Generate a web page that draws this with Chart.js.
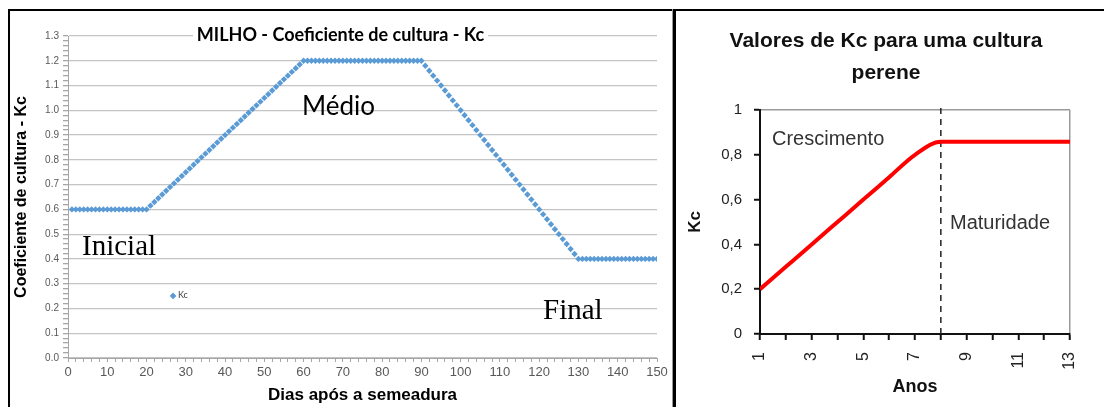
<!DOCTYPE html>
<html lang="pt">
<head>
<meta charset="utf-8">
<title>Kc - milho e cultura perene</title>
<script src="https://cdn.jsdelivr.net/npm/chart.js@4.4.1/dist/chart.umd.min.js"></script>
<style>
  html, body { margin: 0; padding: 0; background: #fff; }
  #pagina { position: relative; width: 1104px; height: 407px; overflow: hidden; background: #fff; font-family: "Liberation Sans", Arial, sans-serif; }
  canvas { position: absolute; }
  #graficoMilho { left: 12px; top: 12px; }
  #graficoPerene { left: 677px; top: 12px; }
  .linha { position: absolute; background: #000; }
  .rotulo { position: absolute; white-space: nowrap; }
  #tituloMilho { left: 193px; top: 24px; width: 295px; text-align: center; line-height: 20px; background: #fff;
    font-family: Lato, "Liberation Sans", sans-serif; font-weight: bold; font-size: 18px; color: #000; }
  #tituloPerene { left: 686px; top: 24px; width: 400px; text-align: center; line-height: 32px;
    font-weight: bold; font-size: 21px; color: #111; }
  .serif { font-family: "Liberation Serif", "Times New Roman", serif; font-size: 29px; line-height: 29px; color: #000; }
  #medio { left: 302px; top: 92px; font-family: Lato, sans-serif; font-size: 26px; line-height: 26px; color: #000; }
  #legenda { left: 170px; top: 289px; font-size: 9px; line-height: 12px; color: #404040; font-family: Lato, sans-serif; }
  #legenda b { color: #5b9bd5; font-size: 8px; margin-right: 2px; }
  .nota { font-size: 20px; line-height: 20px; color: #333; }
</style>
</head>
<body>
<div id="pagina">
  <canvas id="graficoMilho" width="660" height="395"></canvas>
  <canvas id="graficoPerene" width="427" height="395"></canvas>

  <div class="linha" style="left:8px; top:9px; width:1096px; height:2px;"></div>
  <div class="linha" style="left:8px; top:9px; width:2px; height:398px;"></div>
  <div class="linha" style="left:672px; top:9px; width:1px; height:398px; background:#999;"></div>
  <div class="linha" style="left:673px; top:9px; width:3px; height:398px;"></div>

  <div class="rotulo" id="tituloMilho">MILHO - Coeficiente de cultura - Kc</div>
  <div class="rotulo" id="medio">Médio</div>
  <div class="rotulo serif" style="left:82px; top:231px;">Inicial</div>
  <div class="rotulo serif" style="left:543px; top:295px;">Final</div>
  <div class="rotulo" id="legenda"><b>◆</b>Kc</div>

  <div class="rotulo" id="tituloPerene">Valores de Kc para uma cultura<br>perene</div>
  <div class="rotulo nota" style="left:772px; top:128px;">Crescimento</div>
  <div class="rotulo nota" style="left:950px; top:212px;">Maturidade</div>
</div>

<script>
// Milho: Kc por dia após a semeadura
const dias = [
  1, 2, 3, 4, 5, 6, 7, 8, 9, 10, 11, 12, 13, 14, 15, 16, 17, 18, 19, 20,
  21, 22, 23, 24, 25, 26, 27, 28, 29, 30, 31, 32, 33, 34, 35, 36, 37, 38, 39, 40,
  41, 42, 43, 44, 45, 46, 47, 48, 49, 50, 51, 52, 53, 54, 55, 56, 57, 58, 59, 60,
  61, 62, 63, 64, 65, 66, 67, 68, 69, 70, 71, 72, 73, 74, 75, 76, 77, 78, 79, 80,
  81, 82, 83, 84, 85, 86, 87, 88, 89, 90, 91, 92, 93, 94, 95, 96, 97, 98, 99, 100,
  101, 102, 103, 104, 105, 106, 107, 108, 109, 110, 111, 112, 113, 114, 115, 116, 117, 118, 119, 120,
  121, 122, 123, 124, 125, 126, 127, 128, 129, 130, 131, 132, 133, 134, 135, 136, 137, 138, 139, 140,
  141, 142, 143, 144, 145, 146, 147, 148, 149, 150
];
const kcMilho = [
  0.6, 0.6, 0.6, 0.6, 0.6, 0.6, 0.6, 0.6, 0.6, 0.6, 0.6, 0.6, 0.6, 0.6, 0.6, 0.6, 0.6, 0.6, 0.6, 0.6,
  0.615, 0.63, 0.645, 0.66, 0.675, 0.69, 0.705, 0.72, 0.735, 0.75, 0.765, 0.78, 0.795, 0.81, 0.825, 0.84, 0.855, 0.87, 0.885, 0.9,
  0.915, 0.93, 0.945, 0.96, 0.975, 0.99, 1.005, 1.02, 1.035, 1.05, 1.065, 1.08, 1.095, 1.11, 1.125, 1.14, 1.155, 1.17, 1.185, 1.2,
  1.2, 1.2, 1.2, 1.2, 1.2, 1.2, 1.2, 1.2, 1.2, 1.2, 1.2, 1.2, 1.2, 1.2, 1.2, 1.2, 1.2, 1.2, 1.2, 1.2,
  1.2, 1.2, 1.2, 1.2, 1.2, 1.2, 1.2, 1.2, 1.2, 1.2, 1.18, 1.16, 1.14, 1.12, 1.1, 1.08, 1.06, 1.04, 1.02, 1.0,
  0.98, 0.96, 0.94, 0.92, 0.9, 0.88, 0.86, 0.84, 0.82, 0.8, 0.78, 0.76, 0.74, 0.72, 0.7, 0.68, 0.66, 0.64, 0.62, 0.6,
  0.58, 0.56, 0.54, 0.52, 0.5, 0.48, 0.46, 0.44, 0.42, 0.4, 0.4, 0.4, 0.4, 0.4, 0.4, 0.4, 0.4, 0.4, 0.4, 0.4,
  0.4, 0.4, 0.4, 0.4, 0.4, 0.4, 0.4, 0.4, 0.4, 0.4
];

// Cultura perene: Kc por ano
const anos = [1, 2, 3, 4, 5, 6, 7, 8, 9, 10, 11, 12, 13];
const kcPerene = [0.2, 0.3, 0.4, 0.5, 0.6, 0.7, 0.8, 0.858, 0.858, 0.858, 0.858, 0.858, 0.858];
const anoMaturidade = 8;
const limiteMaturidade = [0, 1.015];

Chart.defaults.font.family = '"Liberation Sans", Arial, sans-serif';
Chart.defaults.animation = false;

const ehPrincipal = v => Math.round(v * 100) % 10 === 0;

new Chart(document.getElementById('graficoMilho'), {
    type: 'scatter',
    data: {
        datasets: [{
            label: 'Kc',
            data: dias.map((d, i) => ({ x: d, y: kcMilho[i] })),
            pointStyle: 'rectRot',
            pointRadius: 3.2,
            pointBackgroundColor: '#5b9bd5',
            pointBorderWidth: 0,
            showLine: false
        }]
    },
    options: {
        responsive: false,
        devicePixelRatio: 1,
        layout: { padding: { left: 0, top: 24, right: 15, bottom: 0 } },
        plugins: { legend: { display: false }, tooltip: { enabled: false } },
        scales: {
            x: {
                type: 'linear', min: 0, max: 150,
                afterFit: s => { s.height = 49; },
                ticks: {
                    stepSize: 2, autoSkip: false, maxRotation: 0, padding: 3,
                    color: '#595959', font: { size: 13 },
                    callback: v => (v % 10 === 0 ? v : '')
                },
                grid: { drawOnChartArea: false, tickLength: 4, tickColor: '#a6a6a6' },
                border: { color: '#a6a6a6' },
                title: {
                    display: true, text: 'Dias após a semeadura', color: '#000',
                    font: { size: 17, weight: 'bold' }, padding: { top: 0, bottom: 1 }
                }
            },
            y: {
                min: 0, max: 1.3,
                afterFit: s => { s.width = 56; },
                ticks: {
                    stepSize: 0.02, autoSkip: false, padding: 4,
                    color: '#595959', font: { size: 10 },
                    callback: v => (ehPrincipal(v) ? v.toFixed(1) : '')
                },
                grid: {
                    color: c => (ehPrincipal(c.tick.value) ? '#c4c4c4' : 'transparent'),
                    lineWidth: 1.3,
                    tickLength: 5, tickColor: '#a6a6a6'
                },
                border: { color: '#a6a6a6' },
                title: {
                    display: true, text: 'Coeficiente de cultura - Kc', color: '#000',
                    font: { size: 16, weight: 'bold' }, padding: { top: 0, bottom: 0 }
                }
            }
        }
    }
});

new Chart(document.getElementById('graficoPerene'), {
    type: 'line',
    data: {
        datasets: [{
            label: 'Kc',
            data: anos.map((a, i) => ({ x: a, y: kcPerene[i] })),
            borderColor: '#ff0000',
            borderWidth: 4,
            pointRadius: 0,
            cubicInterpolationMode: 'monotone'
        }, {
            label: 'Maturidade',
            data: limiteMaturidade.map(v => ({ x: anoMaturidade, y: v })),
            borderColor: '#222',
            borderWidth: 1.5,
            borderDash: [6, 5],
            pointRadius: 0,
            clip: false
        }]
    },
    options: {
        responsive: false,
        devicePixelRatio: 1,
        layout: { padding: { left: 0, top: 98, right: 34, bottom: 0 } },
        plugins: { legend: { display: false }, tooltip: { enabled: false } },
        scales: {
            x: {
                type: 'linear', min: 1, max: 13,
                afterFit: s => { s.height = 73; },
                ticks: {
                    stepSize: 1, autoSkip: false, minRotation: 90, maxRotation: 90, padding: 12,
                    color: '#222', font: { size: 16 },
                    callback: v => (v % 2 === 1 ? v : '')
                },
                grid: {
                    color: c => (c.tick.value === 13 ? '#9a9a9a' : 'transparent'),
                    lineWidth: 1.5,
                    tickLength: 6, tickColor: '#111', tickWidth: 2
                },
                border: { color: '#111', width: 2 },
                title: {
                    display: true, text: 'Anos', color: '#111',
                    font: { size: 18, weight: 'bold' }, padding: { top: 0, bottom: 9 }
                }
            },
            y: {
                min: 0, max: 1,
                afterFit: s => { s.width = 83; },
                ticks: {
                    stepSize: 0.2, padding: 12, color: '#222', font: { size: 15 },
                    callback: v => String(Math.round(v * 10) / 10).replace('.', ',')
                },
                grid: {
                    color: c => (c.tick.value === 1 ? '#9a9a9a' : 'transparent'),
                    lineWidth: 1.5,
                    tickLength: 6, tickColor: '#111', tickWidth: 2
                },
                border: { color: '#111', width: 2 },
                title: {
                    display: true, text: 'Kc', color: '#111',
                    font: { size: 17, weight: 'bold' }, padding: { top: 8, bottom: 0 }
                }
            }
        }
    }
});
</script>
</body>
</html>
